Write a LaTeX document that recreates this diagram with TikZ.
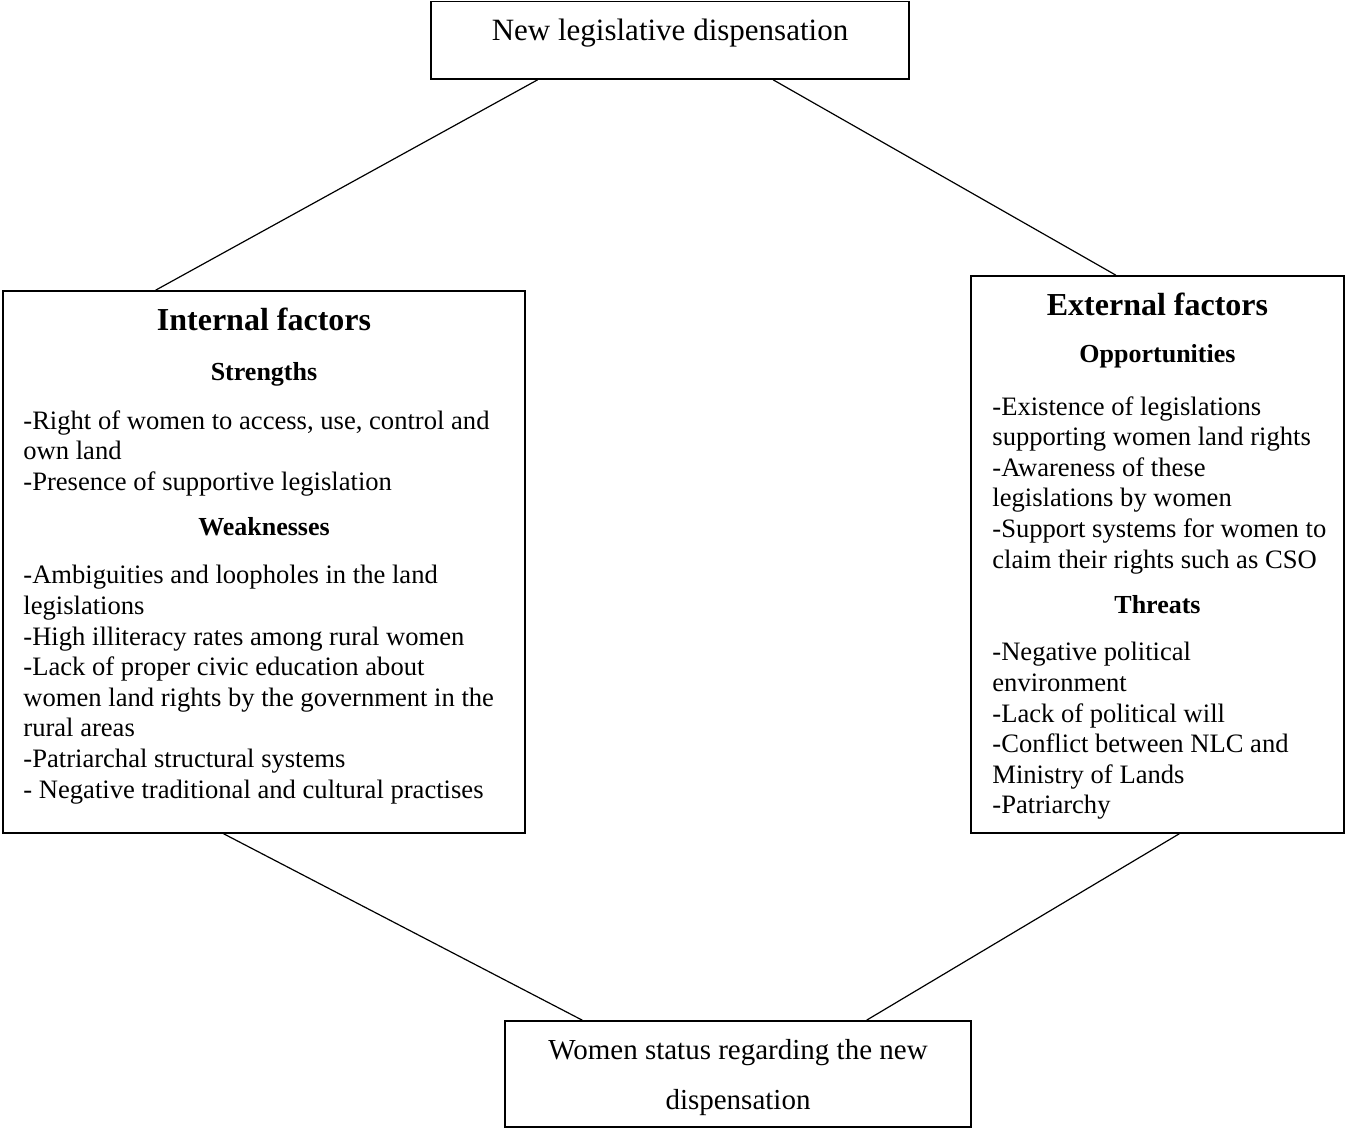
\documentclass[tikz,border=0pt]{standalone}
\usepackage{fontspec}
\setmainfont{Liberation Serif}
\usetikzlibrary{calc}
\newcommand{\bodyfont}{\fontsize{13.3}{15.3}\selectfont}
\tikzset{
  box/.style={draw,line width=0.8pt,inner sep=0pt},
  link/.style={line width=0.6pt},
  head/.style={font=\fontsize{16}{18}\selectfont\bfseries},
  subhead/.style={font=\fontsize{13}{15}\selectfont\bfseries},
  items/.style={font=\bodyfont,align=left,anchor=north west,inner sep=0pt},
  plain/.style={font=\fontsize{14.5}{25}\selectfont,align=center},
}
\begin{document}
\begin{tikzpicture}[x=0.5pt,y=-0.5pt]
\useasboundingbox (0,0) rectangle (1346,1129);
% the four boxes
\node[box,minimum width=239pt,minimum height=38.75pt] (newleg) at (670,40.25) {};
\node[box,minimum width=261pt,minimum height=271pt] (internal) at (264,562) {};
\node[box,minimum width=186.5pt,minimum height=278.5pt] (external) at (1157.5,554.5) {};
\node[box,minimum width=233pt,minimum height=53pt] (status) at (738,1074) {};
% texts
\node[plain,font=\fontsize{15.5}{18}\selectfont] (newlegtext) at (670,33) {New legislative dispensation};
\node[plain] (statustext) at (738,1078) {Women status regarding the new\\dispensation};
\node[head] (inthead) at (264,319) {Internal factors};
\node[subhead] (strength) at (264,374) {Strengths};
\node[items] (strengthlist) at (23,410) {-Right of women to access, use, control and\\own land\\-Presence of supportive legislation};
\node[subhead] (weak) at (264,527) {Weaknesses};
\node[items] (weaklist) at (23,565) {-Ambiguities and loopholes in the land\\legislations\\-High illiteracy rates among rural women\\-Lack of proper civic education about\\women land rights by the government in the\\rural areas\\-Patriarchal structural systems\\- Negative traditional and cultural practises};
\node[head] (exthead) at (1157.5,304) {External factors};
\node[subhead] (opport) at (1157.5,356) {Opportunities};
\node[items] (opportlist) at (992,396) {-Existence of legislations\\supporting women land rights\\-Awareness of these\\legislations by women\\-Support systems for women to\\claim their rights such as CSO};
\node[subhead] (threat) at (1157.5,605) {Threats};
\node[items] (threatlist) at (992,642) {-Negative political\\environment\\-Lack of political will\\-Conflict between NLC and\\Ministry of Lands\\-Patriarchy};
% connectors
\draw[link] ($(newleg.south west)!0.224!(newleg.south east)$) -- ($(internal.north west)!0.293!(internal.north east)$);
\draw[link] ($(newleg.south west)!0.715!(newleg.south east)$) -- ($(external.north west)!0.389!(external.north east)$);
\draw[link] ($(internal.south west)!0.423!(internal.south east)$) -- ($(status.north west)!0.167!(status.north east)$);
\draw[link] ($(external.south west)!0.558!(external.south east)$) -- ($(status.north west)!0.775!(status.north east)$);
\end{tikzpicture}
\end{document}
